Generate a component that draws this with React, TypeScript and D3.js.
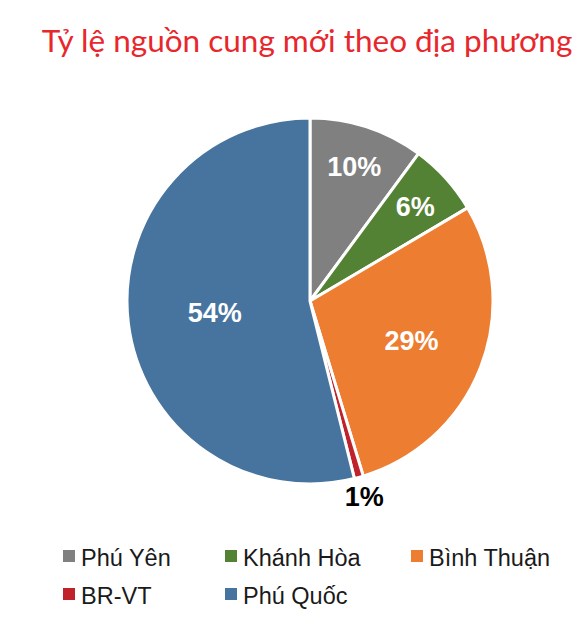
import React from "react";
import * as d3 from "d3";

const TITLE = "Tỷ lệ nguồn cung mới theo địa phương";
const categories = ["Phú Yên", "Khánh Hòa", "Bình Thuận", "BR-VT", "Phú Quốc"];
const values = [10.1, 6.4, 28.8, 0.8, 53.9];
const colors = ["#808080", "#548235", "#ED7D31", "#C0222B", "#46749E"];
const legendRows = [[0, 1, 2], [3, 4]];

const W = 586;
const H = 622;
const CX = 310;
const CY = 301;
const R = 183;

export default function App() {
  const pie = d3.pie<number>().sort(null).value((d) => d)(values);
  const arc = d3.arc<d3.PieArcDatum<number>>().innerRadius(0).outerRadius(R);
  const total = d3.sum(values);

  const labelPos = (d: d3.PieArcDatum<number>) => {
    const frac = d.data / total;
    let k = 0.775;
    if (frac > 0.5) k = 0.525;
    else if (frac > 0.2) k = 0.595;
    else if (frac < 0.03) k = 1.11;
    const a = (d.startAngle + d.endAngle) / 2;
    return [Math.sin(a) * R * k, -Math.cos(a) * R * k];
  };

  const legendX = [63, 225, 411];
  const legendY = [550, 588];
  const fs = 27;

  return (
    <svg
      width={W}
      height={H}
      style={{ position: "absolute", left: 0, top: 0, background: "#fff" }}
    >
      <text
        x={307}
        y={52}
        textAnchor="middle"
        fill="#E8272D"
        fontFamily="Lato"
        fontSize={31.5}
      >
        {TITLE}
      </text>
      <g transform={`translate(${CX},${CY})`}>
        {pie.map((d, i) => (
          <path
            key={i}
            d={arc(d) || ""}
            fill={colors[i]}
            stroke="#fff"
            strokeWidth={3}
            strokeLinejoin="miter"
          />
        ))}
        {pie.map((d, i) => {
          const [x, y] = labelPos(d);
          const small = d.data / total < 0.03;
          return (
            <text
              key={"l" + i}
              x={x}
              y={y + fs * 0.36}
              textAnchor="middle"
              fill={small ? "#000" : "#fff"}
              fontFamily="Liberation Sans, Arial"
              fontWeight="bold"
              fontSize={fs}
            >
              {`${Math.round(d.data)}%`}
            </text>
          );
        })}
      </g>
      {legendRows.map((row, r) =>
        row.map((idx, c) => (
          <g key={`${r}-${c}`} transform={`translate(${legendX[c]},${legendY[r]})`}>
            <rect x={0} y={0} width={12} height={12} fill={colors[idx]} />
            <text
              x={18}
              y={16}
              fill="#1a1a1a"
              fontFamily="Liberation Sans, Arial"
              fontSize={23.5}
            >
              {categories[idx]}
            </text>
          </g>
        ))
      )}
    </svg>
  );
}
